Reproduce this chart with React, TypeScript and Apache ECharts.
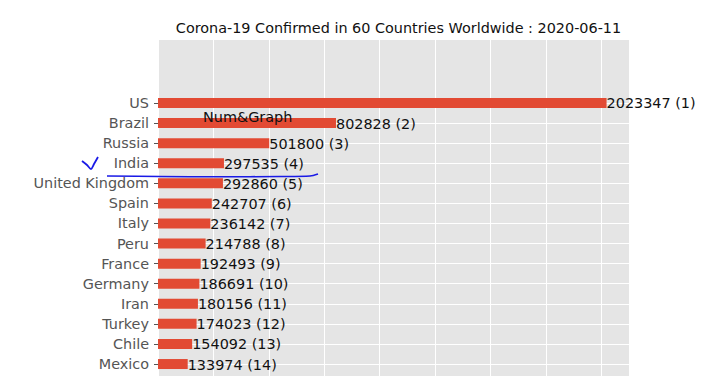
import React, { useEffect, useRef } from "react";
import * as echarts from "echarts";

const countries = ["US", "Brazil", "Russia", "India", "United Kingdom", "Spain", "Italy", "Peru", "France", "Germany", "Iran", "Turkey", "Chile", "Mexico"];
const confirmed = [2023347, 802828, 501800, 297535, 292860, 242707, 236142, 214788, 192493, 186691, 180156, 174023, 154092, 133974];
const ranks = [1, 2, 3, 4, 5, 6, 7, 8, 9, 10, 11, 12, 13, 14];
const titleText = "Corona-19 Confirmed in 60 Countries Worldwide : 2020-06-11";

const FONT = "DejaVu Sans";

export default function App() {
  const ref = useRef<HTMLDivElement>(null);
  useEffect(() => {
    const chart = echarts.init(ref.current!, null, { renderer: "svg" });
    const data = confirmed.map((v, i) => [v, i, ranks[i]]);
    const idx = countries.map((_, i) => i);
    chart.setOption({
      animation: false,
      backgroundColor: "#ffffff",
      title: {
        text: titleText,
        left: 393.5,
        textAlign: "center",
        top: 16,
        textStyle: { fontFamily: FONT, fontSize: 14.4, fontWeight: "normal", color: "#111" },
      },
      grid: {
        left: 158,
        right: 82,
        top: 40,
        bottom: 0,
        show: true,
        backgroundColor: "#E5E5E5",
        borderWidth: 0,
      },
      xAxis: {
        type: "value",
        min: 0,
        max: 2124514,
        interval: 250000,
        axisLabel: { show: false },
        axisTick: { show: false },
        axisLine: { show: false },
        splitLine: { show: true, lineStyle: { color: "#ffffff", width: 1 } },
      },
      yAxis: {
        type: "value",
        inverse: true,
        min: -3.137,
        max: 13.596,
        axisLine: { show: false },
        axisTick: { show: true, length: 4, customValues: idx, lineStyle: { color: "#555555" } },
        axisLabel: {
          customValues: idx,
          margin: 9,
          fontFamily: FONT,
          fontSize: 14.4,
          color: "#555555",
          formatter: (v: number) => countries[Math.round(v)] ?? "",
        },
        splitLine: { show: true, lineStyle: { color: "#ffffff", width: 1 } },
      },
      series: [
        {
          type: "custom",
          data,
          encode: { x: 0, y: 1 },
          clip: false,
          renderItem: (params: any, api: any) => {
            const v = api.value(0);
            const i = api.value(1);
            const r = api.value(2);
            const s = api.coord([0, i]);
            const e = api.coord([v, i]);
            const h = 10;
            return {
              type: "group",
              children: [
                {
                  type: "rect",
                  shape: { x: s[0], y: s[1] - h / 2, width: e[0] - s[0], height: h },
                  style: { fill: "#E24A33" },
                },
                {
                  type: "text",
                  x: e[0],
                  y: e[1] + 0.5,
                  style: {
                    text: `${v} (${r})`,
                    fontFamily: FONT,
                    fontSize: 14.4,
                    fill: "#111111",
                    align: "left",
                    verticalAlign: "middle",
                  },
                },
              ],
            };
          },
        },
      ],
      graphic: [
        {
          type: "text",
          left: 203,
          top: 110,
          z: 100,
          style: { text: "Num&Graph", fontFamily: FONT, fontSize: 14.4, fill: "#111111" },
        },
        {
          type: "polyline",
          z: 100,
          shape: { points: [[82, 161], [87, 165], [91, 169], [94, 164], [98, 157]], smooth: 0.3 },
          style: { stroke: "#1a1ae6", lineWidth: 1.8, fill: "none" },
        },
        {
          type: "polyline",
          z: 100,
          shape: { points: [[107, 176], [160, 176.5], [220, 176.8], [280, 176.5], [310, 176], [318, 174]], smooth: 0.3 },
          style: { stroke: "#1a1ae6", lineWidth: 1.6, fill: "none" },
        },
      ],
    });
    return () => chart.dispose();
  }, []);
  return <div ref={ref} style={{ position: "fixed", left: 0, top: 0, width: 711, height: 376 }} />;
}
